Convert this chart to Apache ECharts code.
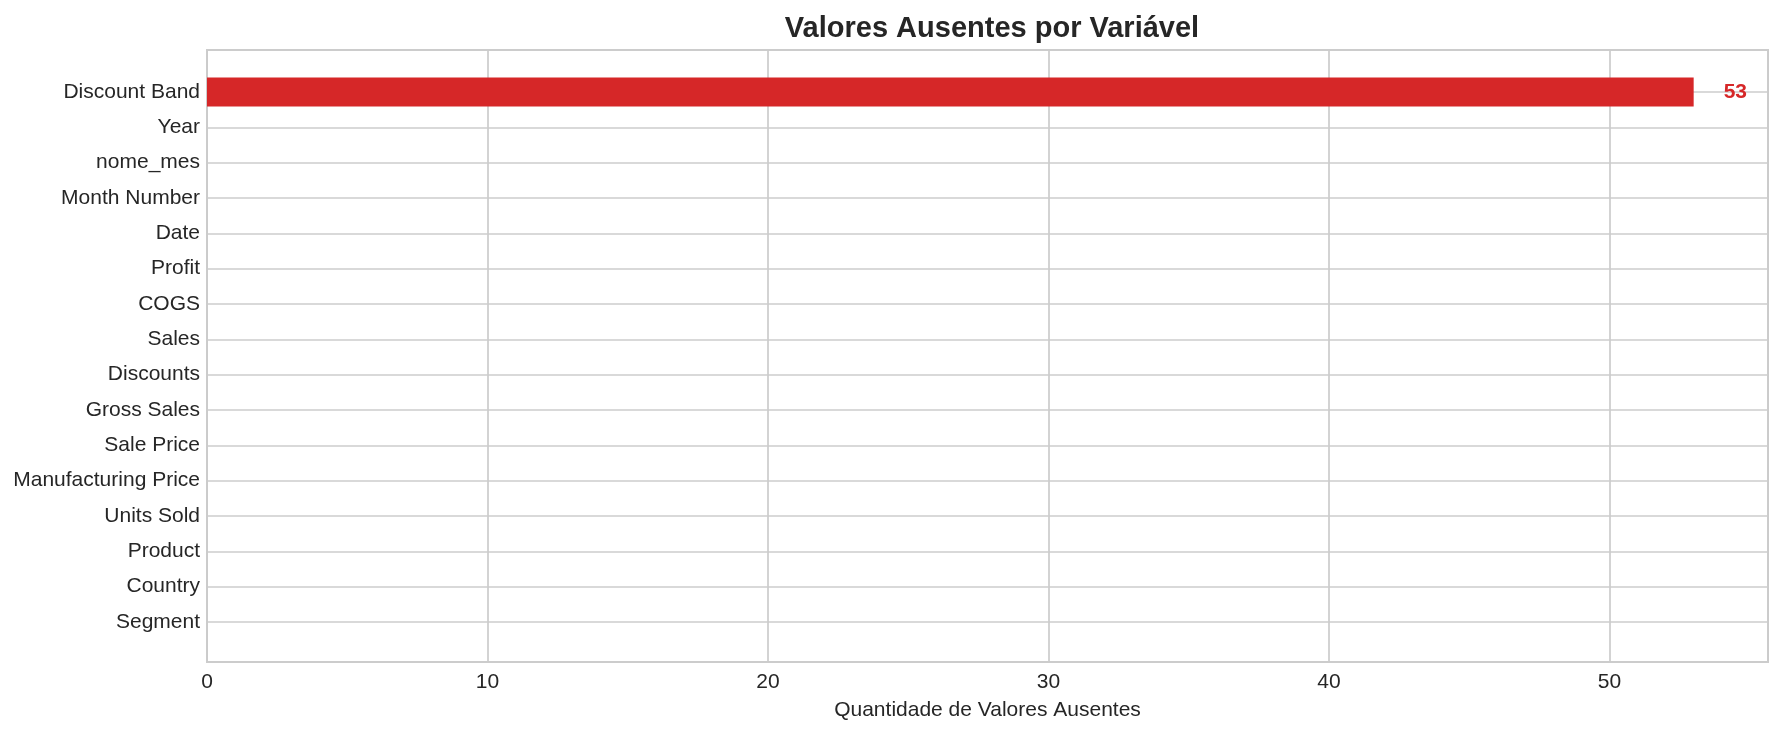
<!DOCTYPE html>
<html>
<head>
<meta charset="utf-8">
<title>Valores Ausentes por Variável</title>
<script src="https://cdn.jsdelivr.net/npm/echarts@6/dist/echarts.min.js"></script>
<style>
  html, body { margin: 0; padding: 0; background: #fff; }
  #chart { width: 1785px; height: 732px; }
</style>
</head>
<body>
<div id="chart"></div>
<script>
// variables, top to bottom as in the chart
const categories = [
  "Discount Band", "Year", "nome_mes", "Month Number", "Date", "Profit",
  "COGS", "Sales", "Discounts", "Gross Sales", "Sale Price",
  "Manufacturing Price", "Units Sold", "Product", "Country", "Segment"
];
const missingCounts = [53, 0, 0, 0, 0, 0, 0, 0, 0, 0, 0, 0, 0, 0, 0, 0];
const xMax = 55.65;

const font = "'Liberation Sans', Arial, sans-serif";
const textColor = "#262626";
const gridColor = "#cccccc";
const barColor = "#d62728";

const myChart = echarts.init(document.getElementById("chart"));

myChart.setOption({
  animation: false,
  backgroundColor: "#ffffff",
  textStyle: { fontFamily: font },
  title: {
    text: "Valores Ausentes por Variável",
    left: 987,
    top: 9,
    textAlign: "center",
    textStyle: { fontSize: 29, fontWeight: "bold", color: textColor, fontFamily: font },
  },
  grid: [
    // frame + vertical grid
    { left: 207, right: 17, top: 50, bottom: 70, show: true, borderColor: gridColor, borderWidth: 2, backgroundColor: "transparent" },
    // category rows
    { left: 207, right: 17, top: 92, bottom: 110 },
  ],
  xAxis: [
    {
      gridIndex: 0,
      type: "value",
      min: 0,
      max: xMax,
      interval: 10,
      name: "Quantidade de Valores Ausentes",
      nameLocation: "middle",
      nameGap: 38,
      nameTextStyle: { fontSize: 21, color: textColor, fontFamily: font },
      axisLine: { show: false },
      axisTick: { show: false },
      axisLabel: { fontSize: 21, color: textColor, margin: 10, fontFamily: font, showMaxLabel: false },
      splitLine: { show: true, lineStyle: { color: gridColor, width: 1.7 } },
    },
    {
      gridIndex: 1,
      type: "value",
      min: 0,
      max: xMax,
      show: false,
      splitLine: { show: false },
    },
  ],
  yAxis: [
    { gridIndex: 0, type: "value", min: 0, max: 1, show: false, splitLine: { show: false } },
    {
      gridIndex: 1,
      type: "category",
      data: categories,
      inverse: true,
      boundaryGap: false,
      axisLine: { show: false },
      axisTick: { show: false },
      axisLabel: { fontSize: 21, color: textColor, margin: 7, fontFamily: font },
      splitLine: { show: true, lineStyle: { color: gridColor, width: 1.7 } },
    },
  ],
  series: [
    {
      type: "bar",
      xAxisIndex: 1,
      yAxisIndex: 1,
      data: missingCounts,
      barWidth: "82%",
      itemStyle: { color: barColor },
      label: {
        show: true,
        position: "right",
        distance: 30,
        fontSize: 21,
        fontWeight: "bold",
        color: barColor,
        fontFamily: font,
        formatter: (p) => (p.value > 0 ? p.value : ""),
      },
    },
  ],
});

window.addEventListener("resize", () => myChart.resize());
</script>
</body>
</html>
